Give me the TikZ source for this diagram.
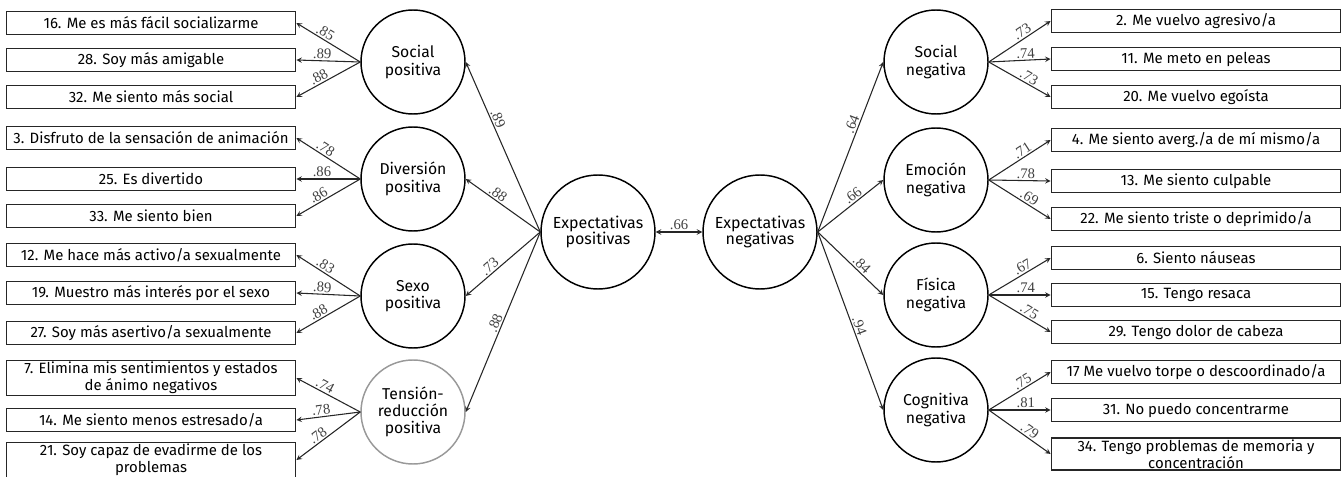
\documentclass[tikz,border=0pt]{standalone}
\usepackage{fontspec}
\setmainfont{Fira Sans}
\newfontfamily\numfont{Liberation Serif}
\usepackage{tikz}
\usetikzlibrary{arrows}
\definecolor{linegray}{rgb}{0.15,0.15,0.15}
\definecolor{labelgray}{rgb}{0.25,0.25,0.25}
\definecolor{ringgray}{rgb}{0.6,0.6,0.6}

\begin{document}
\begin{tikzpicture}[
    x=0.75pt, y=-0.75pt,
    item/.style={rectangle, draw=linegray, line width=1.1pt, minimum width=217pt, minimum height=17pt, inner sep=1pt, align=center, font=\fontsize{11.2}{13}\selectfont},
    factor/.style={circle, draw=black, line width=1.1pt, minimum size=78pt, inner sep=0pt, align=center, font=\fontsize{11.8}{13}\selectfont},
    general/.style={circle, draw=black, line width=1.1pt, minimum size=85.5pt, inner sep=0pt, align=center, font=\fontsize{12}{12.5}\selectfont},
    arrow/.style={->, >=stealth, draw=linegray, line width=0.8pt},
    coef/.style={sloped, above, pos=0.6, inner sep=1pt, text=labelgray, font=\numfont\fontsize{11}{11}\selectfont}
]
    \useasboundingbox (0,0) rectangle (1343,477);

    % factores generales
    \node[general] (ep) at (598,232) {Expectativas\\positivas};
    \node[general] (en) at (760,232) {Expectativas\\negativas};

    % factores positivos
    \node[factor] (sp) at (413,62) {Social\\positiva};
    \node[factor] (dp) at (413,179) {Diversión\\positiva};
    \node[factor] (xp) at (413,296) {Sexo\\positiva};
    \node[factor, draw=ringgray] (tp) at (413,412) {Tensión-\\reducción\\positiva};

    % factores negativos
    \node[factor] (sn) at (936,62) {Social\\negativa};
    \node[factor] (emn) at (936,180) {Emoción\\negativa};
    \node[factor] (fn) at (936,295) {Física\\negativa};
    \node[factor] (cn) at (936,410) {Cognitiva\\negativa};

    % items positivos
    \node[item] (i16) at (151,23) {16. Me es más fácil socializarme};
    \node[item] (i28) at (151,60) {28. Soy más amigable};
    \node[item] (i32) at (151,97) {32. Me siento más social};
    \node[item] (i3) at (151,138) {3. Disfruto de la sensación de animación};
    \node[item] (i25) at (151,179) {25. Es divertido};
    \node[item] (i33) at (151,216) {33. Me siento bien};
    \node[item] (i12) at (151,255) {12. Me hace más activo/a sexualmente};
    \node[item] (i19) at (151,293) {19. Muestro más interés por el sexo};
    \node[item] (i27) at (151,333) {27. Soy más asertivo/a sexualmente};
    \node[item] (i7) at (151,378) {7. Elimina mis sentimientos y estados\\de ánimo negativos};
    \node[item] (i14) at (151,420) {14. Me siento menos estresado/a};
    \node[item] (i21) at (151,460) {21. Soy capaz de evadirme de los\\problemas};

    % items negativos
    \node[item] (i2) at (1196,21) {2. Me vuelvo agresivo/a};
    \node[item] (i11) at (1196,59) {11. Me meto en peleas};
    \node[item] (i20) at (1196,97) {20. Me vuelvo egoísta};
    \node[item] (i4) at (1196,140) {4. Me siento averg./a de mí mismo/a};
    \node[item] (i13) at (1196,181) {13. Me siento culpable};
    \node[item] (i22) at (1196,219) {22. Me siento triste o deprimido/a};
    \node[item] (i6) at (1196,258) {6. Siento náuseas};
    \node[item] (i15) at (1196,295) {15. Tengo resaca};
    \node[item] (i29) at (1196,332) {29. Tengo dolor de cabeza};
    \node[item] (i17) at (1196,372) {17 Me vuelvo torpe o descoordinado/a};
    \node[item] (i31) at (1196,410) {31. No puedo concentrarme};
    \node[item] (i34) at (1196,454) {34. Tengo problemas de memoria y\\concentración};

    % correlacion
    \draw[arrow, <->] (ep) -- node[coef, pos=0.5] {.66} (en);

    % cargas de segundo orden
    \draw[arrow] (ep.west) -- node[coef, pos=0.65] {.89} (sp.east);
    \draw[arrow] (ep.west) -- node[coef, pos=0.62] {.88} (dp.east);
    \draw[arrow] (ep.west) -- node[coef, pos=0.62] {.73} (xp.east);
    \draw[arrow] (ep.west) -- node[coef, pos=0.52] {.88} (tp.east);
    \draw[arrow] (en.east) -- node[coef, pos=0.62] {.64} (sn.west);
    \draw[arrow] (en.east) -- node[coef, pos=0.6] {.66} (emn.west);
    \draw[arrow] (en.east) -- node[coef, pos=0.6] {.84} (fn.west);
    \draw[arrow] (en.east) -- node[coef, pos=0.54] {.94} (cn.west);

    % cargas de items
    \draw[arrow] (sp.west) -- node[coef] {.85} (i16.east);
    \draw[arrow] (sp.west) -- node[coef] {.89} (i28.east);
    \draw[arrow] (sp.west) -- node[coef] {.88} (i32.east);
    \draw[arrow] (dp.west) -- node[coef] {.78} (i3.east);
    \draw[arrow] (dp.west) -- node[coef] {.86} (i25.east);
    \draw[arrow] (dp.west) -- node[coef] {.86} (i33.east);
    \draw[arrow] (xp.west) -- node[coef] {.83} (i12.east);
    \draw[arrow] (xp.west) -- node[coef] {.89} (i19.east);
    \draw[arrow] (xp.west) -- node[coef] {.88} (i27.east);
    \draw[arrow] (tp.west) -- node[coef] {.74} (i7.east);
    \draw[arrow] (tp.west) -- node[coef] {.78} (i14.east);
    \draw[arrow] (tp.west) -- node[coef] {.78} (i21.east);

    \draw[arrow] (sn.east) -- node[coef] {.73} (i2.west);
    \draw[arrow] (sn.east) -- node[coef] {.74} (i11.west);
    \draw[arrow] (sn.east) -- node[coef] {.73} (i20.west);
    \draw[arrow] (emn.east) -- node[coef] {.71} (i4.west);
    \draw[arrow] (emn.east) -- node[coef] {.78} (i13.west);
    \draw[arrow] (emn.east) -- node[coef] {.69} (i22.west);
    \draw[arrow] (fn.east) -- node[coef] {.67} (i6.west);
    \draw[arrow] (fn.east) -- node[coef] {.74} (i15.west);
    \draw[arrow] (fn.east) -- node[coef] {.75} (i29.west);
    \draw[arrow] (cn.east) -- node[coef] {.75} (i17.west);
    \draw[arrow] (cn.east) -- node[coef] {.81} (i31.west);
    \draw[arrow] (cn.east) -- node[coef] {.79} (i34.west);
\end{tikzpicture}
\end{document}
